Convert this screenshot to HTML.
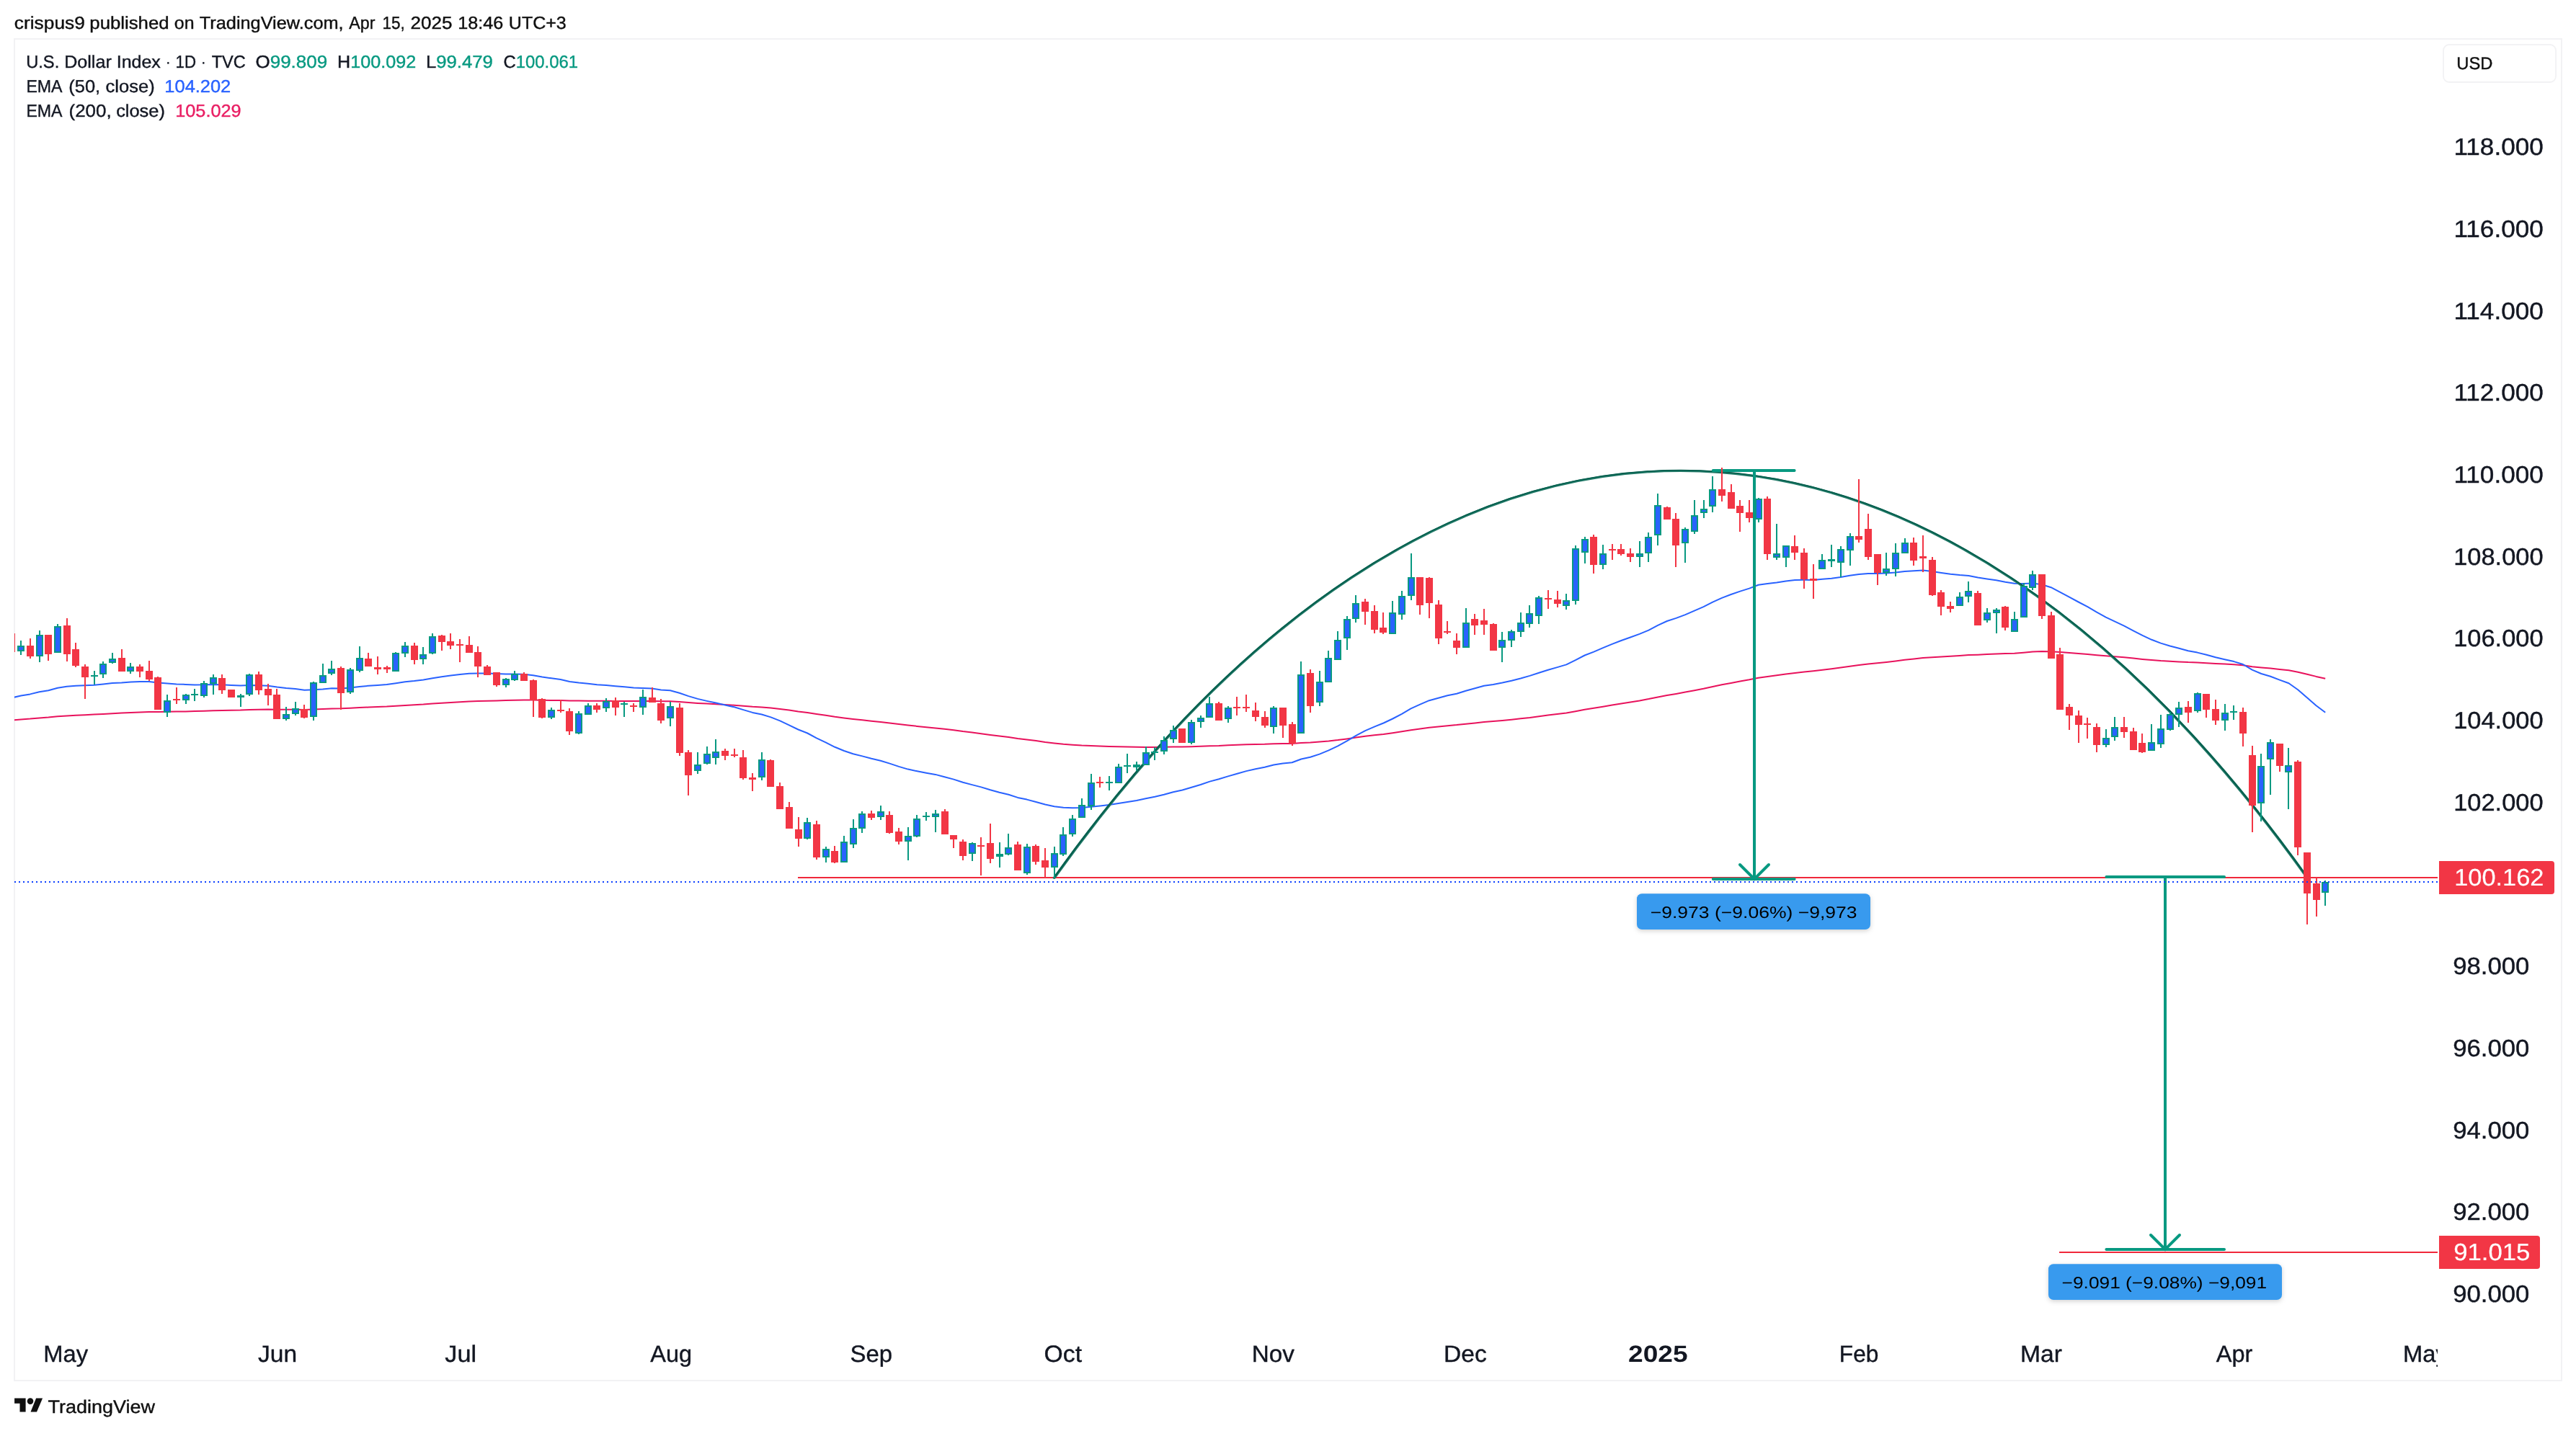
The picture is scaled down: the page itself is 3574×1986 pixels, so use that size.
<!DOCTYPE html>
<html><head><meta charset="utf-8"><title>U.S. Dollar Index chart</title>
<style>
html,body{margin:0;padding:0;background:#fff;}
body{width:3574px;height:1986px;position:relative;overflow:hidden;font-family:"Liberation Sans", sans-serif;}
#frame{position:absolute;left:19px;top:53px;width:3536px;height:1864px;box-sizing:border-box;border:2px solid #F2F2F4;}
svg{position:absolute;left:0;top:0;font-family:"Liberation Sans", sans-serif;will-change:transform;}
text{text-rendering:geometricPrecision;}
</style></head><body>
<div id="frame"></div>
<svg width="3574" height="1986" viewBox="0 0 3574 1986">
<defs><clipPath id="plot"><rect x="20" y="55" width="3362" height="1795"/></clipPath><clipPath id="taxis"><rect x="21" y="1840" width="3361" height="75"/></clipPath><filter id="sh" x="-10%" y="-30%" width="120%" height="170%"><feDropShadow dx="0" dy="2" stdDeviation="3" flood-color="#000" flood-opacity="0.18"/></filter></defs>
<g clip-path="url(#plot)">
<polyline points="16.5,999.5 29.1,998.4 41.8,997.6 54.5,996.4 67.2,995.5 79.9,994.3 92.6,993.4 105.3,992.7 118.0,992.2 130.6,991.6 143.3,990.9 156.0,990.2 168.7,989.6 181.4,988.9 194.1,988.4 206.8,987.9 219.4,987.9 232.1,987.7 244.8,987.6 257.5,987.4 270.2,987.1 282.9,986.7 295.6,986.3 308.3,986.0 320.9,985.8 333.6,985.6 346.3,985.1 359.0,984.8 371.7,984.6 384.4,984.8 397.1,984.8 409.8,984.8 422.4,984.9 435.1,984.5 447.8,984.1 460.5,983.5 473.2,983.3 485.9,982.8 498.6,982.1 511.2,981.5 523.9,981.0 536.6,980.5 549.3,979.7 562.0,978.9 574.7,978.2 587.4,977.6 600.1,976.6 612.7,975.8 625.4,975.0 638.1,974.2 650.8,973.5 663.5,973.0 676.2,972.7 688.9,972.4 701.5,972.1 714.2,971.8 726.9,971.5 739.6,971.5 752.3,971.8 765.0,971.9 777.7,972.0 790.4,972.5 803.0,972.6 815.7,972.7 828.4,972.8 841.1,972.8 853.8,972.9 866.5,972.9 879.2,973.0 891.9,973.0 904.5,973.0 917.2,973.2 929.9,973.3 942.6,974.0 955.3,975.0 968.0,975.9 980.7,976.6 993.3,977.3 1006.0,978.0 1018.7,978.7 1031.4,979.7 1044.1,980.7 1056.8,981.4 1069.5,982.5 1082.2,983.9 1094.8,985.6 1107.5,987.4 1120.2,988.9 1132.9,990.9 1145.6,992.8 1158.3,994.8 1171.0,996.5 1183.6,998.0 1196.3,999.3 1209.0,1000.7 1221.7,1001.9 1234.4,1003.5 1247.1,1005.1 1259.8,1006.6 1272.5,1007.9 1285.1,1009.2 1297.8,1010.4 1310.5,1011.8 1323.2,1013.3 1335.9,1015.1 1348.6,1016.6 1361.3,1018.2 1374.0,1019.9 1386.6,1021.6 1399.3,1023.1 1412.0,1024.9 1424.7,1026.4 1437.4,1028.1 1450.1,1029.9 1462.8,1031.4 1475.4,1032.7 1488.1,1033.7 1500.8,1034.5 1513.5,1035.0 1526.2,1035.5 1538.9,1036.0 1551.6,1036.3 1564.3,1036.6 1576.9,1036.8 1589.6,1036.9 1602.3,1036.9 1615.0,1036.8 1627.7,1036.6 1640.4,1036.6 1653.1,1036.2 1665.7,1035.8 1678.4,1035.2 1691.1,1034.9 1703.8,1034.3 1716.5,1033.8 1729.2,1033.3 1741.9,1032.9 1754.6,1032.7 1767.2,1032.2 1779.9,1031.9 1792.6,1031.9 1805.3,1031.0 1818.0,1030.5 1830.7,1029.6 1843.4,1028.5 1856.1,1027.1 1868.7,1025.4 1881.4,1023.5 1894.1,1021.8 1906.8,1020.3 1919.5,1018.9 1932.2,1017.2 1944.9,1015.3 1957.5,1013.2 1970.2,1011.5 1982.9,1009.7 1995.6,1008.5 2008.3,1007.2 2021.0,1006.1 2033.7,1004.7 2046.4,1003.4 2059.0,1002.0 2071.7,1001.0 2084.4,999.9 2097.1,998.7 2109.8,997.3 2122.5,995.9 2135.2,994.2 2147.8,992.6 2160.5,991.1 2173.2,989.5 2185.9,987.2 2198.6,984.8 2211.3,982.8 2224.0,980.7 2236.7,978.5 2249.3,976.4 2262.0,974.4 2274.7,972.4 2287.4,970.1 2300.1,967.4 2312.8,965.0 2325.5,962.9 2338.2,960.6 2350.8,958.2 2363.5,955.7 2376.2,952.9 2388.9,950.3 2401.6,947.9 2414.3,945.5 2427.0,943.3 2439.6,940.8 2452.3,939.0 2465.0,937.3 2477.7,935.5 2490.4,933.9 2503.1,932.6 2515.8,931.3 2528.5,929.8 2541.1,928.2 2553.8,926.6 2566.5,924.8 2579.2,923.0 2591.9,921.5 2604.6,920.3 2617.3,919.0 2629.9,917.5 2642.6,915.8 2655.3,914.5 2668.0,913.1 2680.7,912.2 2693.4,911.5 2706.1,910.8 2718.8,910.0 2731.4,909.1 2744.1,908.7 2756.8,908.1 2769.5,907.5 2782.2,907.1 2794.9,906.7 2807.6,905.7 2820.2,904.6 2832.9,904.1 2845.6,904.2 2858.3,905.0 2871.0,905.9 2883.7,906.9 2896.4,907.9 2909.1,909.2 2921.7,910.3 2934.4,911.3 2947.1,912.3 2959.8,913.6 2972.5,914.9 2985.2,916.0 2997.9,917.0 3010.6,917.7 3023.2,918.4 3035.9,919.1 3048.6,919.5 3061.3,920.2 3074.0,920.9 3086.7,921.6 3099.4,922.3 3112.0,923.2 3124.7,925.2 3137.4,926.5 3150.1,927.6 3162.8,928.9 3175.5,930.2 3188.2,932.7 3200.9,935.7 3213.5,938.9 3226.2,941.7" fill="none" stroke="#E8125C" stroke-width="2" stroke-linejoin="round"/>
<polyline points="16.5,968.4 29.1,965.6 41.8,963.4 54.5,960.2 67.2,958.2 79.9,954.7 92.6,952.8 105.3,951.7 118.0,951.3 130.6,950.7 143.3,949.5 156.0,948.1 168.7,947.5 181.4,946.6 194.1,946.1 206.8,945.9 219.4,947.5 232.1,948.4 244.8,949.4 257.5,949.9 270.2,950.4 282.9,950.3 295.6,949.9 308.3,950.3 320.9,951.0 333.6,951.5 346.3,950.9 359.0,951.2 371.7,951.7 384.4,953.6 397.1,955.0 409.8,956.1 422.4,957.7 435.1,957.3 447.8,956.5 460.5,955.3 473.2,955.6 485.9,954.6 498.6,952.9 511.2,951.8 523.9,950.9 536.6,950.1 549.3,948.3 562.0,946.3 574.7,945.1 587.4,943.6 600.1,941.3 612.7,939.3 625.4,937.6 638.1,936.0 650.8,934.8 663.5,934.4 676.2,934.5 688.9,935.1 701.5,935.4 714.2,935.4 726.9,935.8 739.6,937.2 752.3,939.5 765.0,941.3 777.7,943.1 790.4,945.9 803.0,947.6 815.7,948.8 828.4,950.3 841.1,951.1 853.8,952.3 866.5,953.3 879.2,954.4 891.9,954.9 904.5,955.6 917.2,957.4 929.9,958.3 942.6,961.7 955.3,966.1 968.0,969.9 980.7,972.9 993.3,975.6 1006.0,978.5 1018.7,981.3 1031.4,985.1 1044.1,988.9 1056.8,991.5 1069.5,995.4 1082.2,1000.4 1094.8,1006.3 1107.5,1012.5 1120.2,1017.5 1132.9,1024.3 1145.6,1030.3 1158.3,1036.8 1171.0,1042.0 1183.6,1046.2 1196.3,1049.4 1209.0,1052.8 1221.7,1055.7 1234.4,1059.6 1247.1,1063.9 1259.8,1067.6 1272.5,1070.3 1285.1,1072.7 1297.8,1074.9 1310.5,1078.2 1323.2,1081.6 1335.9,1085.8 1348.6,1089.1 1361.3,1092.4 1374.0,1096.3 1386.6,1099.8 1399.3,1102.8 1412.0,1106.9 1424.7,1109.6 1437.4,1113.0 1450.1,1116.5 1462.8,1119.2 1475.4,1120.7 1488.1,1121.3 1500.8,1121.1 1513.5,1119.7 1526.2,1118.4 1538.9,1117.1 1551.6,1115.0 1564.3,1113.0 1576.9,1110.9 1589.6,1108.3 1602.3,1105.7 1615.0,1102.7 1627.7,1099.2 1640.4,1096.5 1653.1,1092.8 1665.7,1089.0 1678.4,1084.6 1691.1,1081.3 1703.8,1077.4 1716.5,1073.7 1729.2,1070.1 1741.9,1067.2 1754.6,1064.8 1767.2,1061.5 1779.9,1059.4 1792.6,1058.3 1805.3,1053.5 1818.0,1050.7 1830.7,1046.6 1843.4,1041.3 1856.1,1035.3 1868.7,1028.4 1881.4,1020.9 1894.1,1014.1 1906.8,1008.7 1919.5,1003.5 1932.2,997.5 1944.9,990.8 1957.5,983.4 1970.2,977.7 1982.9,972.2 1995.6,968.8 2008.3,965.3 2021.0,962.7 2033.7,958.8 2046.4,955.3 2059.0,951.8 2071.7,949.9 2084.4,947.5 2097.1,944.7 2109.8,941.5 2122.5,937.9 2135.2,933.7 2147.8,929.7 2160.5,926.1 2173.2,922.4 2185.9,916.1 2198.6,909.5 2211.3,904.6 2224.0,899.2 2236.7,893.9 2249.3,889.0 2262.0,884.5 2274.7,879.9 2287.4,874.6 2300.1,867.8 2312.8,862.0 2325.5,857.9 2338.2,853.1 2350.8,847.6 2363.5,842.1 2376.2,835.7 2388.9,829.9 2401.6,825.0 2414.3,820.6 2427.0,816.6 2439.6,811.7 2452.3,810.1 2465.0,808.4 2477.7,806.4 2490.4,804.9 2503.1,804.8 2515.8,804.9 2528.5,803.8 2541.1,802.7 2553.8,801.1 2566.5,798.8 2579.2,796.9 2591.9,795.9 2604.6,795.9 2617.3,795.6 2629.9,794.5 2642.6,792.9 2655.3,792.3 2668.0,791.6 2680.7,793.0 2693.4,794.9 2706.1,796.8 2718.8,798.1 2731.4,798.9 2744.1,801.6 2756.8,803.5 2769.5,805.2 2782.2,807.8 2794.9,809.8 2807.6,809.9 2820.2,809.4 2832.9,811.2 2845.6,815.2 2858.3,821.9 2871.0,828.6 2883.7,835.5 2896.4,842.2 2909.1,849.7 2921.7,856.6 2934.4,862.6 2947.1,868.6 2959.8,875.3 2972.5,881.9 2985.2,887.8 2997.9,892.6 3010.6,896.5 3023.2,899.8 3035.9,903.3 3048.6,905.6 3061.3,908.7 3074.0,912.3 3086.7,915.3 3099.4,918.1 3112.0,922.0 3124.7,929.7 3137.4,935.0 3150.1,938.7 3162.8,943.6 3175.5,948.2 3188.2,957.2 3200.9,968.2 3213.5,979.2 3226.2,988.8" fill="none" stroke="#2962FF" stroke-width="2" stroke-linejoin="round"/>
<line x1="1107" y1="1218" x2="3382" y2="1218" stroke="#F0283A" stroke-width="2" shape-rendering="crispEdges"/>
<line x1="2857" y1="1738" x2="3382" y2="1738" stroke="#F0283A" stroke-width="2" shape-rendering="crispEdges"/>
<g transform="scale(1,0.72)"><path d="M1462.7 1692.22 A1738 5852.1 0 0 1 3201.3 1692.22" fill="none" stroke="#237B69" stroke-width="4.1" stroke-linecap="round"/>
<path d="M1462.7 1691.04 A1738 5852.1 0 0 1 3201.3 1691.04" fill="none" stroke="#065F4E" stroke-width="2.3" stroke-linecap="butt"/></g>
<g stroke="#089981" stroke-width="4" stroke-linecap="round" fill="none"><line x1="2376.7999999999997" y1="653" x2="2489.6" y2="653"/><line x1="2376.7999999999997" y1="1220" x2="2489.6" y2="1220"/><line x1="2434" y1="653" x2="2434" y2="1220" stroke-linecap="butt"/><path d="M2414 1200L2434 1220L2454 1200" stroke-linejoin="miter"/></g>
<g stroke="#089981" stroke-width="4" stroke-linecap="round" fill="none"><line x1="2922.3999999999996" y1="1217" x2="3086.0" y2="1217"/><line x1="2922.3999999999996" y1="1734" x2="3086.0" y2="1734"/><line x1="3004" y1="1217" x2="3004" y2="1734" stroke-linecap="butt"/><path d="M2984 1714L3004 1734L3024 1714" stroke-linejoin="miter"/></g>
<g shape-rendering="crispEdges">
<path d="M15 879h2V905h-2ZM41 886h2V914h-2ZM66 881h2V917h-2ZM92 858h2V918h-2ZM104 892h2V926h-2ZM117 922h2V970h-2ZM168 901h2V932h-2ZM193 922h2V940h-2ZM206 917h2V945h-2ZM218 939h2V985h-2ZM244 954h2V977h-2ZM307 936h2V963h-2ZM320 957h2V968h-2ZM358 932h2V964h-2ZM371 949h2V979h-2ZM383 956h2V998h-2ZM421 978h2V997h-2ZM472 925h2V985h-2ZM510 906h2V925h-2ZM523 911h2V936h-2ZM536 924h2V934h-2ZM574 892h2V922h-2ZM612 881h2V903h-2ZM624 879h2V901h-2ZM637 887h2V919h-2ZM650 883h2V906h-2ZM662 897h2V940h-2ZM675 923h2V937h-2ZM688 933h2V953h-2ZM726 933h2V945h-2ZM739 943h2V995h-2ZM751 969h2V997h-2ZM777 971h2V989h-2ZM789 983h2V1020h-2ZM827 976h2V989h-2ZM853 968h2V993h-2ZM878 976h2V988h-2ZM904 954h2V975h-2ZM916 970h2V1004h-2ZM942 976h2V1049h-2ZM954 1041h2V1104h-2ZM1005 1039h2V1055h-2ZM1018 1039h2V1051h-2ZM1030 1041h2V1082h-2ZM1043 1073h2V1098h-2ZM1068 1054h2V1092h-2ZM1081 1086h2V1123h-2ZM1094 1113h2V1150h-2ZM1107 1134h2V1175h-2ZM1132 1139h2V1193h-2ZM1157 1174h2V1198h-2ZM1208 1125h2V1138h-2ZM1233 1126h2V1157h-2ZM1246 1149h2V1172h-2ZM1310 1123h2V1158h-2ZM1322 1159h2V1177h-2ZM1335 1165h2V1194h-2ZM1360 1162h2V1215h-2ZM1373 1143h2V1198h-2ZM1411 1168h2V1208h-2ZM1436 1172h2V1200h-2ZM1449 1177h2V1218h-2ZM1525 1078h2V1093h-2ZM1639 1011h2V1031h-2ZM1690 974h2V1000h-2ZM1715 967h2V993h-2ZM1728 964h2V988h-2ZM1741 975h2V1001h-2ZM1754 987h2V1010h-2ZM1779 982h2V1024h-2ZM1792 1002h2V1035h-2ZM1817 929h2V989h-2ZM1893 831h2V867h-2ZM1906 840h2V879h-2ZM1918 850h2V880h-2ZM1969 801h2V853h-2ZM1982 801h2V858h-2ZM1995 833h2V894h-2ZM2007 862h2V880h-2ZM2020 879h2V908h-2ZM2045 852h2V881h-2ZM2058 845h2V881h-2ZM2071 865h2V903h-2ZM2147 819h2V845h-2ZM2160 820h2V843h-2ZM2210 742h2V796h-2ZM2236 755h2V777h-2ZM2248 755h2V771h-2ZM2261 761h2V780h-2ZM2312 703h2V721h-2ZM2324 712h2V787h-2ZM2388 649h2V696h-2ZM2401 672h2V706h-2ZM2413 694h2V738h-2ZM2426 694h2V725h-2ZM2451 689h2V777h-2ZM2489 743h2V777h-2ZM2502 761h2V817h-2ZM2515 783h2V831h-2ZM2578 665h2V753h-2ZM2591 713h2V777h-2ZM2604 769h2V812h-2ZM2654 746h2V785h-2ZM2667 743h2V794h-2ZM2680 773h2V827h-2ZM2692 819h2V854h-2ZM2705 835h2V850h-2ZM2743 820h2V868h-2ZM2781 841h2V875h-2ZM2832 797h2V859h-2ZM2845 849h2V914h-2ZM2857 899h2V985h-2ZM2870 977h2V1013h-2ZM2883 986h2V1031h-2ZM2895 996h2V1025h-2ZM2908 1004h2V1044h-2ZM2946 995h2V1024h-2ZM2959 1010h2V1041h-2ZM2971 1018h2V1045h-2ZM3035 973h2V1003h-2ZM3060 963h2V996h-2ZM3073 971h2V1006h-2ZM3111 982h2V1036h-2ZM3124 1035h2V1155h-2ZM3162 1032h2V1071h-2ZM3187 1055h2V1187h-2ZM3200 1183h2V1283h-2ZM3213 1218h2V1272h-2Z" fill="#F23645"/>
<path d="M11 879h10V905h-10ZM37 896h10V911h-10ZM62 881h10V908h-10ZM88 868h10V908h-10ZM100 901h10V924h-10ZM113 925h10V940h-10ZM164 913h10V932h-10ZM189 925h10V932h-10ZM202 931h10V943h-10ZM214 940h10V985h-10ZM240 970h10V972h-10ZM303 941h10V958h-10ZM316 957h10V968h-10ZM354 936h10V958h-10ZM367 956h10V965h-10ZM379 964h10V998h-10ZM417 984h10V996h-10ZM468 927h10V962h-10ZM506 914h10V925h-10ZM519 926h10V929h-10ZM532 926h10V929h-10ZM570 896h10V916h-10ZM608 882h10V891h-10ZM620 890h10V896h-10ZM633 894h10V896h-10ZM646 895h10V906h-10ZM658 905h10V925h-10ZM671 925h10V937h-10ZM684 933h10V951h-10ZM722 935h10V945h-10ZM735 944h10V972h-10ZM747 970h10V996h-10ZM773 985h10V987h-10ZM785 987h10V1015h-10ZM823 979h10V985h-10ZM849 972h10V982h-10ZM874 979h10V981h-10ZM900 968h10V975h-10ZM912 976h10V1000h-10ZM938 982h10V1045h-10ZM950 1044h10V1076h-10ZM1001 1042h10V1049h-10ZM1014 1047h10V1049h-10ZM1026 1051h10V1080h-10ZM1039 1079h10V1082h-10ZM1064 1055h10V1092h-10ZM1077 1091h10V1123h-10ZM1090 1120h10V1150h-10ZM1103 1151h10V1164h-10ZM1128 1144h10V1190h-10ZM1153 1181h10V1197h-10ZM1204 1129h10V1135h-10ZM1229 1131h10V1156h-10ZM1242 1154h10V1168h-10ZM1306 1126h10V1158h-10ZM1318 1159h10V1165h-10ZM1331 1168h10V1188h-10ZM1356 1173h10V1175h-10ZM1369 1170h10V1192h-10ZM1407 1172h10V1208h-10ZM1432 1174h10V1196h-10ZM1445 1194h10V1204h-10ZM1521 1085h10V1087h-10ZM1635 1011h10V1031h-10ZM1686 976h10V1000h-10ZM1711 981h10V983h-10ZM1724 981h10V983h-10ZM1737 986h10V995h-10ZM1750 995h10V1007h-10ZM1775 982h10V1007h-10ZM1788 1005h10V1032h-10ZM1813 934h10V980h-10ZM1889 835h10V849h-10ZM1902 848h10V874h-10ZM1914 871h10V878h-10ZM1965 801h10V840h-10ZM1978 802h10V837h-10ZM1991 839h10V886h-10ZM2003 876h10V878h-10ZM2016 889h10V899h-10ZM2041 859h10V868h-10ZM2054 861h10V867h-10ZM2067 866h10V903h-10ZM2143 830h10V832h-10ZM2156 832h10V838h-10ZM2206 745h10V784h-10ZM2232 762h10V764h-10ZM2244 762h10V769h-10ZM2257 768h10V773h-10ZM2308 704h10V721h-10ZM2320 720h10V757h-10ZM2384 679h10V688h-10ZM2397 683h10V706h-10ZM2409 702h10V712h-10ZM2422 711h10V719h-10ZM2447 692h10V769h-10ZM2485 758h10V767h-10ZM2498 767h10V804h-10ZM2511 803h10V806h-10ZM2574 744h10V749h-10ZM2587 734h10V773h-10ZM2600 769h10V795h-10ZM2650 753h10V778h-10ZM2663 772h10V775h-10ZM2676 777h10V826h-10ZM2688 822h10V842h-10ZM2701 841h10V845h-10ZM2739 823h10V868h-10ZM2777 842h10V871h-10ZM2828 797h10V855h-10ZM2841 854h10V914h-10ZM2853 908h10V985h-10ZM2866 981h10V993h-10ZM2879 993h10V1006h-10ZM2891 1004h10V1006h-10ZM2904 1009h10V1034h-10ZM2942 1009h10V1016h-10ZM2955 1015h10V1041h-10ZM2967 1031h10V1044h-10ZM3031 981h10V989h-10ZM3056 963h10V985h-10ZM3069 984h10V1000h-10ZM3107 988h10V1018h-10ZM3120 1048h10V1118h-10ZM3158 1032h10V1063h-10ZM3183 1057h10V1176h-10ZM3196 1183h10V1240h-10ZM3209 1226h10V1249h-10Z" fill="#F23645"/>
<path d="M28 889h2V896h-2ZM28 904h2V909h-2ZM54 875h2V881h-2ZM54 911h2V919h-2ZM79 866h2V869h-2ZM79 906h2V906h-2ZM130 931h2V937h-2ZM130 939h2V950h-2ZM142 918h2V921h-2ZM142 936h2V941h-2ZM155 906h2V914h-2ZM155 920h2V921h-2ZM180 920h2V925h-2ZM180 932h2V935h-2ZM231 964h2V972h-2ZM231 989h2V995h-2ZM257 963h2V964h-2ZM257 972h2V977h-2ZM269 956h2V963h-2ZM269 965h2V973h-2ZM282 945h2V948h-2ZM282 966h2V968h-2ZM295 936h2V940h-2ZM295 949h2V964h-2ZM333 963h2V965h-2ZM333 968h2V981h-2ZM345 935h2V936h-2ZM345 964h2V966h-2ZM396 981h2V991h-2ZM396 998h2V1000h-2ZM409 974h2V983h-2ZM409 991h2V993h-2ZM434 946h2V947h-2ZM434 995h2V1000h-2ZM447 921h2V937h-2ZM447 948h2V948h-2ZM459 917h2V928h-2ZM459 935h2V937h-2ZM485 927h2V929h-2ZM485 961h2V963h-2ZM498 897h2V913h-2ZM498 931h2V933h-2ZM548 905h2V906h-2ZM548 932h2V932h-2ZM561 891h2V896h-2ZM561 907h2V912h-2ZM586 898h2V908h-2ZM586 915h2V922h-2ZM599 879h2V883h-2ZM599 907h2V908h-2ZM701 941h2V942h-2ZM701 951h2V954h-2ZM713 931h2V935h-2ZM713 944h2V945h-2ZM764 982h2V985h-2ZM764 996h2V998h-2ZM802 987h2V990h-2ZM802 1018h2V1019h-2ZM815 976h2V979h-2ZM815 992h2V992h-2ZM840 969h2V973h-2ZM840 983h2V988h-2ZM865 974h2V976h-2ZM865 978h2V995h-2ZM891 957h2V967h-2ZM891 982h2V992h-2ZM929 974h2V980h-2ZM929 997h2V1008h-2ZM967 1044h2V1061h-2ZM967 1070h2V1074h-2ZM980 1036h2V1046h-2ZM980 1060h2V1061h-2ZM992 1026h2V1043h-2ZM992 1052h2V1061h-2ZM1056 1044h2V1054h-2ZM1056 1079h2V1083h-2ZM1119 1135h2V1141h-2ZM1119 1164h2V1165h-2ZM1145 1175h2V1178h-2ZM1145 1190h2V1197h-2ZM1170 1160h2V1168h-2ZM1170 1197h2V1197h-2ZM1183 1137h2V1149h-2ZM1183 1172h2V1177h-2ZM1195 1126h2V1129h-2ZM1195 1150h2V1156h-2ZM1221 1118h2V1126h-2ZM1221 1134h2V1138h-2ZM1259 1148h2V1160h-2ZM1259 1168h2V1194h-2ZM1271 1131h2V1136h-2ZM1271 1161h2V1162h-2ZM1284 1127h2V1132h-2ZM1284 1134h2V1139h-2ZM1297 1124h2V1129h-2ZM1297 1134h2V1155h-2ZM1348 1169h2V1170h-2ZM1348 1185h2V1195h-2ZM1386 1169h2V1185h-2ZM1386 1189h2V1204h-2ZM1398 1157h2V1176h-2ZM1398 1186h2V1187h-2ZM1424 1171h2V1175h-2ZM1424 1212h2V1214h-2ZM1462 1175h2V1184h-2ZM1462 1204h2V1218h-2ZM1474 1148h2V1158h-2ZM1474 1186h2V1188h-2ZM1487 1131h2V1136h-2ZM1487 1158h2V1161h-2ZM1500 1108h2V1117h-2ZM1500 1135h2V1135h-2ZM1513 1074h2V1086h-2ZM1513 1119h2V1124h-2ZM1538 1077h2V1085h-2ZM1538 1087h2V1097h-2ZM1551 1060h2V1064h-2ZM1551 1087h2V1087h-2ZM1563 1046h2V1062h-2ZM1563 1064h2V1073h-2ZM1576 1057h2V1061h-2ZM1576 1065h2V1070h-2ZM1589 1036h2V1044h-2ZM1589 1062h2V1062h-2ZM1601 1037h2V1043h-2ZM1601 1045h2V1055h-2ZM1614 1022h2V1027h-2ZM1614 1043h2V1047h-2ZM1627 1007h2V1013h-2ZM1627 1026h2V1031h-2ZM1652 999h2V1002h-2ZM1652 1031h2V1033h-2ZM1665 993h2V996h-2ZM1665 1002h2V1010h-2ZM1677 967h2V976h-2ZM1677 996h2V996h-2ZM1703 980h2V982h-2ZM1703 998h2V1003h-2ZM1766 980h2V982h-2ZM1766 1009h2V1018h-2ZM1804 918h2V936h-2ZM1804 1018h2V1018h-2ZM1830 931h2V946h-2ZM1830 975h2V980h-2ZM1842 903h2V913h-2ZM1842 947h2V947h-2ZM1855 876h2V888h-2ZM1855 916h2V916h-2ZM1868 855h2V859h-2ZM1868 886h2V902h-2ZM1880 826h2V837h-2ZM1880 859h2V864h-2ZM1931 834h2V850h-2ZM1931 880h2V880h-2ZM1944 820h2V827h-2ZM1944 853h2V860h-2ZM1957 768h2V801h-2ZM1957 827h2V833h-2ZM2033 844h2V864h-2ZM2033 899h2V899h-2ZM2083 877h2V888h-2ZM2083 899h2V919h-2ZM2096 874h2V876h-2ZM2096 889h2V898h-2ZM2109 850h2V864h-2ZM2109 877h2V884h-2ZM2121 840h2V851h-2ZM2121 866h2V871h-2ZM2134 827h2V829h-2ZM2134 855h2V866h-2ZM2172 824h2V833h-2ZM2172 841h2V846h-2ZM2185 757h2V761h-2ZM2185 834h2V839h-2ZM2198 745h2V748h-2ZM2198 767h2V782h-2ZM2223 756h2V768h-2ZM2223 784h2V790h-2ZM2274 751h2V768h-2ZM2274 773h2V787h-2ZM2286 739h2V745h-2ZM2286 768h2V780h-2ZM2299 685h2V701h-2ZM2299 743h2V757h-2ZM2337 732h2V734h-2ZM2337 754h2V781h-2ZM2350 694h2V715h-2ZM2350 738h2V741h-2ZM2363 694h2V706h-2ZM2363 712h2V719h-2ZM2375 661h2V679h-2ZM2375 703h2V711h-2ZM2439 691h2V692h-2ZM2439 721h2V725h-2ZM2464 727h2V768h-2ZM2464 774h2V777h-2ZM2477 757h2V757h-2ZM2477 774h2V787h-2ZM2527 769h2V777h-2ZM2527 790h2V790h-2ZM2540 756h2V776h-2ZM2540 779h2V787h-2ZM2553 758h2V762h-2ZM2553 781h2V801h-2ZM2566 740h2V744h-2ZM2566 764h2V785h-2ZM2616 767h2V789h-2ZM2616 795h2V799h-2ZM2629 754h2V767h-2ZM2629 790h2V800h-2ZM2642 747h2V753h-2ZM2642 768h2V768h-2ZM2718 822h2V828h-2ZM2718 841h2V841h-2ZM2730 807h2V820h-2ZM2730 828h2V836h-2ZM2756 844h2V850h-2ZM2756 861h2V864h-2ZM2769 844h2V846h-2ZM2769 851h2V879h-2ZM2794 849h2V859h-2ZM2794 877h2V877h-2ZM2807 809h2V813h-2ZM2807 857h2V857h-2ZM2819 792h2V797h-2ZM2819 816h2V819h-2ZM2921 1012h2V1024h-2ZM2921 1034h2V1037h-2ZM2933 995h2V1009h-2ZM2933 1023h2V1028h-2ZM2984 1005h2V1030h-2ZM2984 1042h2V1042h-2ZM2997 992h2V1011h-2ZM2997 1033h2V1038h-2ZM3010 988h2V991h-2ZM3010 1013h2V1014h-2ZM3022 974h2V982h-2ZM3022 992h2V1009h-2ZM3048 961h2V962h-2ZM3048 987h2V989h-2ZM3086 977h2V989h-2ZM3086 1000h2V1014h-2ZM3098 979h2V987h-2ZM3098 989h2V999h-2ZM3136 1046h2V1063h-2ZM3136 1115h2V1140h-2ZM3149 1026h2V1030h-2ZM3149 1054h2V1103h-2ZM3174 1038h2V1062h-2ZM3174 1072h2V1123h-2ZM3225 1222h2V1224h-2ZM3225 1239h2V1257h-2Z" fill="#089981"/>
<path d="M24 896h10V904h-10ZM50 881h10V911h-10ZM75 869h10V906h-10ZM126 937h10V939h-10ZM138 921h10V936h-10ZM151 914h10V920h-10ZM176 925h10V932h-10ZM227 972h10V989h-10ZM253 964h10V972h-10ZM265 963h10V965h-10ZM278 948h10V966h-10ZM291 940h10V949h-10ZM329 965h10V968h-10ZM341 936h10V964h-10ZM392 991h10V998h-10ZM405 983h10V991h-10ZM430 947h10V995h-10ZM443 937h10V948h-10ZM455 928h10V935h-10ZM481 929h10V961h-10ZM494 913h10V931h-10ZM544 906h10V932h-10ZM557 896h10V907h-10ZM582 908h10V915h-10ZM595 883h10V907h-10ZM697 942h10V951h-10ZM709 935h10V944h-10ZM760 985h10V996h-10ZM798 990h10V1018h-10ZM811 979h10V992h-10ZM836 973h10V983h-10ZM861 976h10V978h-10ZM887 967h10V982h-10ZM925 980h10V997h-10ZM963 1061h10V1070h-10ZM976 1046h10V1060h-10ZM988 1043h10V1052h-10ZM1052 1054h10V1079h-10ZM1115 1141h10V1164h-10ZM1141 1178h10V1190h-10ZM1166 1168h10V1197h-10ZM1179 1149h10V1172h-10ZM1191 1129h10V1150h-10ZM1217 1126h10V1134h-10ZM1255 1160h10V1168h-10ZM1267 1136h10V1161h-10ZM1280 1132h10V1134h-10ZM1293 1129h10V1134h-10ZM1344 1170h10V1185h-10ZM1382 1185h10V1189h-10ZM1394 1176h10V1186h-10ZM1420 1175h10V1212h-10ZM1458 1184h10V1204h-10ZM1470 1158h10V1186h-10ZM1483 1136h10V1158h-10ZM1496 1117h10V1135h-10ZM1509 1086h10V1119h-10ZM1534 1085h10V1087h-10ZM1547 1064h10V1087h-10ZM1559 1062h10V1064h-10ZM1572 1061h10V1065h-10ZM1585 1044h10V1062h-10ZM1597 1043h10V1045h-10ZM1610 1027h10V1043h-10ZM1623 1013h10V1026h-10ZM1648 1002h10V1031h-10ZM1661 996h10V1002h-10ZM1673 976h10V996h-10ZM1699 982h10V998h-10ZM1762 982h10V1009h-10ZM1800 936h10V1018h-10ZM1826 946h10V975h-10ZM1838 913h10V947h-10ZM1851 888h10V916h-10ZM1864 859h10V886h-10ZM1876 837h10V859h-10ZM1927 850h10V880h-10ZM1940 827h10V853h-10ZM1953 801h10V827h-10ZM2029 864h10V899h-10ZM2079 888h10V899h-10ZM2092 876h10V889h-10ZM2105 864h10V877h-10ZM2117 851h10V866h-10ZM2130 829h10V855h-10ZM2168 833h10V841h-10ZM2181 761h10V834h-10ZM2194 748h10V767h-10ZM2219 768h10V784h-10ZM2270 768h10V773h-10ZM2282 745h10V768h-10ZM2295 701h10V743h-10ZM2333 734h10V754h-10ZM2346 715h10V738h-10ZM2359 706h10V712h-10ZM2371 679h10V703h-10ZM2435 692h10V721h-10ZM2460 768h10V774h-10ZM2473 757h10V774h-10ZM2523 777h10V790h-10ZM2536 776h10V779h-10ZM2549 762h10V781h-10ZM2562 744h10V764h-10ZM2612 789h10V795h-10ZM2625 767h10V790h-10ZM2638 753h10V768h-10ZM2714 828h10V841h-10ZM2726 820h10V828h-10ZM2752 850h10V861h-10ZM2765 846h10V851h-10ZM2790 859h10V877h-10ZM2803 813h10V857h-10ZM2815 797h10V816h-10ZM2917 1024h10V1034h-10ZM2929 1009h10V1023h-10ZM2980 1030h10V1042h-10ZM2993 1011h10V1033h-10ZM3006 991h10V1013h-10ZM3018 982h10V992h-10ZM3044 962h10V987h-10ZM3082 989h10V1000h-10ZM3094 987h10V989h-10ZM3132 1063h10V1115h-10ZM3145 1030h10V1054h-10ZM3170 1062h10V1072h-10ZM3221 1224h10V1239h-10Z" fill="#089981"/>
<path d="M26 898h6V902h-6ZM52 883h6V909h-6ZM77 871h6V904h-6ZM140 923h6V934h-6ZM153 916h6V918h-6ZM178 927h6V930h-6ZM229 974h6V987h-6ZM255 966h6V970h-6ZM280 950h6V964h-6ZM293 942h6V947h-6ZM343 938h6V962h-6ZM394 993h6V996h-6ZM407 985h6V989h-6ZM432 949h6V993h-6ZM445 939h6V946h-6ZM457 930h6V933h-6ZM483 931h6V959h-6ZM496 915h6V929h-6ZM546 908h6V930h-6ZM559 898h6V905h-6ZM584 910h6V913h-6ZM597 885h6V905h-6ZM699 944h6V949h-6ZM711 937h6V942h-6ZM762 987h6V994h-6ZM800 992h6V1016h-6ZM813 981h6V990h-6ZM838 975h6V981h-6ZM889 969h6V980h-6ZM927 982h6V995h-6ZM965 1063h6V1068h-6ZM978 1048h6V1058h-6ZM990 1045h6V1050h-6ZM1054 1056h6V1077h-6ZM1117 1143h6V1162h-6ZM1143 1180h6V1188h-6ZM1168 1170h6V1195h-6ZM1181 1151h6V1170h-6ZM1193 1131h6V1148h-6ZM1219 1128h6V1132h-6ZM1257 1162h6V1166h-6ZM1269 1138h6V1159h-6ZM1295 1131h6V1132h-6ZM1346 1172h6V1183h-6ZM1396 1178h6V1184h-6ZM1422 1177h6V1210h-6ZM1460 1186h6V1202h-6ZM1472 1160h6V1184h-6ZM1485 1138h6V1156h-6ZM1498 1119h6V1133h-6ZM1511 1088h6V1117h-6ZM1549 1066h6V1085h-6ZM1587 1046h6V1060h-6ZM1612 1029h6V1041h-6ZM1625 1015h6V1024h-6ZM1650 1004h6V1029h-6ZM1663 998h6V1000h-6ZM1675 978h6V994h-6ZM1701 984h6V996h-6ZM1764 984h6V1007h-6ZM1802 938h6V1016h-6ZM1828 948h6V973h-6ZM1840 915h6V945h-6ZM1853 890h6V914h-6ZM1866 861h6V884h-6ZM1878 839h6V857h-6ZM1929 852h6V878h-6ZM1942 829h6V851h-6ZM1955 803h6V825h-6ZM2031 866h6V897h-6ZM2081 890h6V897h-6ZM2094 878h6V887h-6ZM2107 866h6V875h-6ZM2119 853h6V864h-6ZM2132 831h6V853h-6ZM2170 835h6V839h-6ZM2183 763h6V832h-6ZM2196 750h6V765h-6ZM2221 770h6V782h-6ZM2272 770h6V771h-6ZM2284 747h6V766h-6ZM2297 703h6V741h-6ZM2335 736h6V752h-6ZM2348 717h6V736h-6ZM2361 708h6V710h-6ZM2373 681h6V701h-6ZM2437 694h6V719h-6ZM2462 770h6V772h-6ZM2475 759h6V772h-6ZM2525 779h6V788h-6ZM2551 764h6V779h-6ZM2564 746h6V762h-6ZM2614 791h6V793h-6ZM2627 769h6V788h-6ZM2640 755h6V766h-6ZM2716 830h6V839h-6ZM2728 822h6V826h-6ZM2754 852h6V859h-6ZM2767 848h6V849h-6ZM2792 861h6V875h-6ZM2805 815h6V855h-6ZM2817 799h6V814h-6ZM2919 1026h6V1032h-6ZM2931 1011h6V1021h-6ZM2982 1032h6V1040h-6ZM2995 1013h6V1031h-6ZM3008 993h6V1011h-6ZM3020 984h6V990h-6ZM3046 964h6V985h-6ZM3084 991h6V998h-6ZM3134 1065h6V1113h-6ZM3147 1032h6V1052h-6ZM3172 1064h6V1070h-6ZM3223 1226h6V1237h-6Z" fill="#2962FF"/>
</g>
<line x1="20" y1="1224" x2="3382" y2="1224" stroke="#0B3FFF" stroke-width="2" stroke-dasharray="2 4" shape-rendering="crispEdges"/>
</g>
<rect x="2271" y="1240.2" width="324" height="49.8" rx="7" fill="#389AEE" filter="url(#sh)"/>
<rect x="2842" y="1754.2" width="324" height="49.8" rx="7" fill="#389AEE" filter="url(#sh)"/>
<path d="M3384 1195h156a4 4 0 0 1 4 4v38a4 4 0 0 1 -4 4h-156Z" fill="#F23645"/>
<path d="M3384 1715h136a4 4 0 0 1 4 4v38a4 4 0 0 1 -4 4h-136Z" fill="#F23645"/>
<rect x="3390" y="62" width="156" height="52" rx="8" fill="#fff" stroke="#F2F2F4" stroke-width="1.8"/>
<g clip-path="url(#taxis)">
<text x="60.35" y="1890" font-size="32.5" fill="#131722" stroke="#131722" stroke-width="0.4" textLength="61.80" lengthAdjust="spacingAndGlyphs">May</text>
<text x="358.09" y="1890" font-size="32.5" fill="#131722" stroke="#131722" stroke-width="0.4" textLength="54.12" lengthAdjust="spacingAndGlyphs">Jun</text>
<text x="617.33" y="1890" font-size="32.5" fill="#131722" stroke="#131722" stroke-width="0.4" textLength="43.79" lengthAdjust="spacingAndGlyphs">Jul</text>
<text x="902.31" y="1890" font-size="32.5" fill="#131722" stroke="#131722" stroke-width="0.4" textLength="57.79" lengthAdjust="spacingAndGlyphs">Aug</text>
<text x="1179.56" y="1890" font-size="32.5" fill="#131722" stroke="#131722" stroke-width="0.4" textLength="58.61" lengthAdjust="spacingAndGlyphs">Sep</text>
<text x="1448.64" y="1890" font-size="32.5" fill="#131722" stroke="#131722" stroke-width="0.4" textLength="52.46" lengthAdjust="spacingAndGlyphs">Oct</text>
<text x="1736.65" y="1890" font-size="32.5" fill="#131722" stroke="#131722" stroke-width="0.4" textLength="59.15" lengthAdjust="spacingAndGlyphs">Nov</text>
<text x="2003.06" y="1890" font-size="32.5" fill="#131722" stroke="#131722" stroke-width="0.4" textLength="59.72" lengthAdjust="spacingAndGlyphs">Dec</text>
<text x="2259.05" y="1890" font-size="32.5" fill="#131722" stroke="#131722" stroke-width="0.0" font-weight="bold" textLength="82.57" lengthAdjust="spacingAndGlyphs">2025</text>
<text x="2551.82" y="1890" font-size="32.5" fill="#131722" stroke="#131722" stroke-width="0.4" textLength="54.57" lengthAdjust="spacingAndGlyphs">Feb</text>
<text x="2802.95" y="1890" font-size="32.5" fill="#131722" stroke="#131722" stroke-width="0.4" textLength="58.00" lengthAdjust="spacingAndGlyphs">Mar</text>
<text x="3074.69" y="1890" font-size="32.5" fill="#131722" stroke="#131722" stroke-width="0.4" textLength="50.62" lengthAdjust="spacingAndGlyphs">Apr</text>
<text x="3334.10" y="1890" font-size="32.5" fill="#131722" stroke="#131722" stroke-width="0.4" textLength="61.80" lengthAdjust="spacingAndGlyphs">May</text>
</g>
<text x="19.85" y="39.5" font-size="24.4" fill="#0f0f0f" stroke="#0f0f0f" stroke-width="0.4" textLength="97.96" lengthAdjust="spacingAndGlyphs">crispus9</text>
<text x="124.39" y="39.5" font-size="24.4" fill="#0f0f0f" stroke="#0f0f0f" stroke-width="0.4" textLength="110.21" lengthAdjust="spacingAndGlyphs">published</text>
<text x="241.88" y="39.5" font-size="24.4" fill="#0f0f0f" stroke="#0f0f0f" stroke-width="0.4" textLength="27.67" lengthAdjust="spacingAndGlyphs">on</text>
<text x="276.82" y="39.5" font-size="24.4" fill="#0f0f0f" stroke="#0f0f0f" stroke-width="0.4" textLength="199.77" lengthAdjust="spacingAndGlyphs">TradingView.com,</text>
<text x="484.33" y="39.5" font-size="24.4" fill="#0f0f0f" stroke="#0f0f0f" stroke-width="0.4" textLength="36.12" lengthAdjust="spacingAndGlyphs">Apr</text>
<text x="530.47" y="39.5" font-size="24.4" fill="#0f0f0f" stroke="#0f0f0f" stroke-width="0.4" textLength="31.30" lengthAdjust="spacingAndGlyphs">15,</text>
<text x="569.59" y="39.5" font-size="24.4" fill="#0f0f0f" stroke="#0f0f0f" stroke-width="0.4" textLength="57.96" lengthAdjust="spacingAndGlyphs">2025</text>
<text x="635.27" y="39.5" font-size="24.4" fill="#0f0f0f" stroke="#0f0f0f" stroke-width="0.4" textLength="63.09" lengthAdjust="spacingAndGlyphs">18:46</text>
<text x="705.83" y="39.5" font-size="24.4" fill="#0f0f0f" stroke="#0f0f0f" stroke-width="0.4" textLength="79.95" lengthAdjust="spacingAndGlyphs">UTC+3</text>
<text x="36.23" y="93.6" font-size="24.3" fill="#131722" stroke="#131722" stroke-width="0.4" textLength="46.01" lengthAdjust="spacingAndGlyphs">U.S.</text>
<text x="89.17" y="93.6" font-size="24.3" fill="#131722" stroke="#131722" stroke-width="0.4" textLength="65.66" lengthAdjust="spacingAndGlyphs">Dollar</text>
<text x="161.78" y="93.6" font-size="24.3" fill="#131722" stroke="#131722" stroke-width="0.4" textLength="61.08" lengthAdjust="spacingAndGlyphs">Index</text>
<text x="243.58" y="93.6" font-size="24.3" fill="#131722" stroke="#131722" stroke-width="0.4" textLength="28.44" lengthAdjust="spacingAndGlyphs">1D</text>
<text x="293.65" y="93.6" font-size="24.3" fill="#131722" stroke="#131722" stroke-width="0.4" textLength="47.16" lengthAdjust="spacingAndGlyphs">TVC</text>
<text x="354.49" y="93.6" font-size="24.3" fill="#131722" stroke="#131722" stroke-width="0.4" textLength="99.71" lengthAdjust="spacingAndGlyphs">O<tspan fill="#089981" stroke="#089981">99.809</tspan></text>
<text x="468.14" y="93.6" font-size="24.3" fill="#131722" stroke="#131722" stroke-width="0.4" textLength="109.13" lengthAdjust="spacingAndGlyphs">H<tspan fill="#089981" stroke="#089981">100.092</tspan></text>
<text x="590.90" y="93.6" font-size="24.3" fill="#131722" stroke="#131722" stroke-width="0.4" textLength="92.88" lengthAdjust="spacingAndGlyphs">L<tspan fill="#089981" stroke="#089981">99.479</tspan></text>
<text x="698.49" y="93.6" font-size="24.3" fill="#131722" stroke="#131722" stroke-width="0.4" textLength="103.51" lengthAdjust="spacingAndGlyphs">C<tspan fill="#089981" stroke="#089981">100.061</tspan></text>
<text x="36.38" y="127.6" font-size="24.3" fill="#131722" stroke="#131722" stroke-width="0.4" textLength="50.12" lengthAdjust="spacingAndGlyphs">EMA</text>
<text x="95.33" y="127.6" font-size="24.3" fill="#131722" stroke="#131722" stroke-width="0.4" textLength="43.86" lengthAdjust="spacingAndGlyphs">(50,</text>
<text x="146.64" y="127.6" font-size="24.3" fill="#131722" stroke="#131722" stroke-width="0.4" textLength="68.00" lengthAdjust="spacingAndGlyphs">close)</text>
<text x="228.39" y="127.6" font-size="24.3" fill="#2962FF" stroke="#2962FF" stroke-width="0.4" textLength="91.85" lengthAdjust="spacingAndGlyphs">104.202</text>
<text x="36.38" y="161.7" font-size="24.3" fill="#131722" stroke="#131722" stroke-width="0.4" textLength="50.12" lengthAdjust="spacingAndGlyphs">EMA</text>
<text x="95.51" y="161.7" font-size="24.3" fill="#131722" stroke="#131722" stroke-width="0.4" textLength="59.13" lengthAdjust="spacingAndGlyphs">(200,</text>
<text x="161.15" y="161.7" font-size="24.3" fill="#131722" stroke="#131722" stroke-width="0.4" textLength="67.72" lengthAdjust="spacingAndGlyphs">close)</text>
<text x="243.24" y="161.7" font-size="24.3" fill="#E91E63" stroke="#E91E63" stroke-width="0.4" textLength="91.36" lengthAdjust="spacingAndGlyphs">105.029</text>
<text x="66.58" y="1960.8" font-size="25.4" fill="#111" stroke="#111" stroke-width="0.4" textLength="148.35" lengthAdjust="spacingAndGlyphs">TradingView</text>
<text x="3408.27" y="95.5" font-size="24.1" fill="#0f0f0f" stroke="#0f0f0f" stroke-width="0.4" textLength="50.10" lengthAdjust="spacingAndGlyphs">USD</text>
<text x="2289.68" y="1273.8" font-size="22.8" fill="#000" stroke="#000" stroke-width="0.0" textLength="286.97" lengthAdjust="spacingAndGlyphs">−9.973 (−9.06%) −9,973</text>
<text x="2860.58" y="1787.8" font-size="22.8" fill="#000" stroke="#000" stroke-width="0.0" textLength="284.53" lengthAdjust="spacingAndGlyphs">−9.091 (−9.08%) −9,091</text>
<text x="3403.16" y="1807.0" font-size="33.2" fill="#131722" stroke="#131722" stroke-width="0.4" textLength="106.11" lengthAdjust="spacingAndGlyphs">90.000</text>
<text x="3403.16" y="1693.3" font-size="33.2" fill="#131722" stroke="#131722" stroke-width="0.4" textLength="106.11" lengthAdjust="spacingAndGlyphs">92.000</text>
<text x="3403.16" y="1579.6" font-size="33.2" fill="#131722" stroke="#131722" stroke-width="0.4" textLength="106.11" lengthAdjust="spacingAndGlyphs">94.000</text>
<text x="3403.16" y="1465.9" font-size="33.2" fill="#131722" stroke="#131722" stroke-width="0.4" textLength="106.11" lengthAdjust="spacingAndGlyphs">96.000</text>
<text x="3403.16" y="1352.2" font-size="33.2" fill="#131722" stroke="#131722" stroke-width="0.4" textLength="106.11" lengthAdjust="spacingAndGlyphs">98.000</text>
<text x="3404.20" y="1124.8" font-size="33.2" fill="#131722" stroke="#131722" stroke-width="0.4" textLength="124.44" lengthAdjust="spacingAndGlyphs">102.000</text>
<text x="3404.20" y="1011.0" font-size="33.2" fill="#131722" stroke="#131722" stroke-width="0.4" textLength="124.44" lengthAdjust="spacingAndGlyphs">104.000</text>
<text x="3404.20" y="897.4" font-size="33.2" fill="#131722" stroke="#131722" stroke-width="0.4" textLength="124.44" lengthAdjust="spacingAndGlyphs">106.000</text>
<text x="3404.20" y="783.6" font-size="33.2" fill="#131722" stroke="#131722" stroke-width="0.4" textLength="124.44" lengthAdjust="spacingAndGlyphs">108.000</text>
<text x="3404.42" y="670.0" font-size="33.2" fill="#131722" stroke="#131722" stroke-width="0.4" textLength="124.33" lengthAdjust="spacingAndGlyphs">110.000</text>
<text x="3404.42" y="556.2" font-size="33.2" fill="#131722" stroke="#131722" stroke-width="0.4" textLength="124.33" lengthAdjust="spacingAndGlyphs">112.000</text>
<text x="3404.42" y="442.6" font-size="33.2" fill="#131722" stroke="#131722" stroke-width="0.4" textLength="124.33" lengthAdjust="spacingAndGlyphs">114.000</text>
<text x="3404.42" y="328.9" font-size="33.2" fill="#131722" stroke="#131722" stroke-width="0.4" textLength="124.33" lengthAdjust="spacingAndGlyphs">116.000</text>
<text x="3404.42" y="215.2" font-size="33.2" fill="#131722" stroke="#131722" stroke-width="0.4" textLength="124.33" lengthAdjust="spacingAndGlyphs">118.000</text>
<text x="3405.17" y="1229.2" font-size="33.2" fill="#fff" stroke="#fff" stroke-width="0.2" textLength="124.31" lengthAdjust="spacingAndGlyphs">100.162</text>
<text x="3404.16" y="1749.0" font-size="33.2" fill="#fff" stroke="#fff" stroke-width="0.2" textLength="106.14" lengthAdjust="spacingAndGlyphs">91.015</text>
<text x="233.3" y="93.6" font-size="24.3" fill="#131722" text-anchor="middle">·</text>
<text x="282.3" y="93.6" font-size="24.3" fill="#131722" text-anchor="middle">·</text>
<g fill="#111"><path d="M20.1 1940.4H35.6V1959.4H27.5V1947.7H20.1Z"/><circle cx="42" cy="1944.6" r="4.3"/><path d="M50.1 1940.4H59.1L51 1959.4H42.5Z"/></g>
</svg>
</body></html>
